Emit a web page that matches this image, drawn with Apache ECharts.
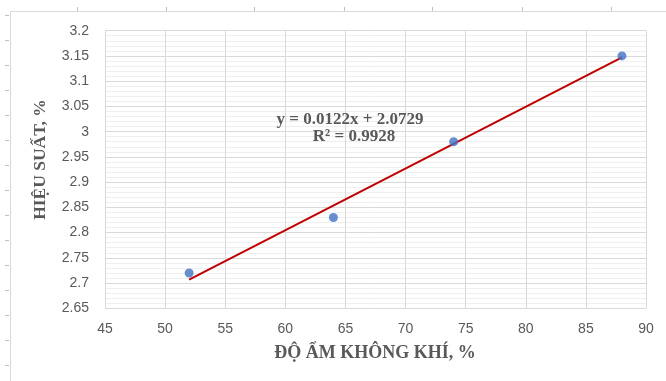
<!DOCTYPE html>
<html><head><meta charset="utf-8">
<script src="https://cdn.jsdelivr.net/npm/echarts@6/dist/echarts.min.js"></script>
<style>html,body{margin:0;padding:0;background:#fff}#c{width:666px;height:381px}</style>
</head><body><div id="c"></div>
<script>
const humidity = [52, 64, 74, 88];
const efficiency = [2.72, 2.83, 2.98, 3.15];
const trendX = [52, 88];
const trendY = [2.707, 3.147];
const xTicks = {min: 45, max: 90, step: 5};
const yTicks = {min: 2.65, max: 3.2, step: 0.05};
const eqLine1 = 'y = 0.0122x + 2.0729';
const eqLine2 = 'R² = 0.9928';
const xTitle = 'ĐỘ ẨM KHÔNG KHÍ, %';
const yTitle = 'HIỆU SUẤT, %';

const chart = echarts.init(document.getElementById('c'));
const txt = '#595959';
const deco = [];
deco.push({type:'line', shape:{x1:10.5,y1:11.5,x2:666,y2:11.5}, style:{stroke:'#d9d9d9',lineWidth:1}, silent:true});
deco.push({type:'line', shape:{x1:10.5,y1:11.5,x2:10.5,y2:381}, style:{stroke:'#d9d9d9',lineWidth:1}, silent:true});
[77,166,254,344,432,522,611].forEach(x=>deco.push({type:'line', shape:{x1:x+0.5,y1:7,x2:x+0.5,y2:11}, style:{stroke:'#bfbfbf',lineWidth:1}, silent:true}));
for (let y=15; y<381; y+=25) deco.push({type:'line', shape:{x1:5,y1:y+0.5,x2:9,y2:y+0.5}, style:{stroke:'#bfbfbf',lineWidth:1}, silent:true});
deco.push({type:'text', x:350, y:119.5, z:10, style:{text:eqLine1, fill:txt, font:'bold 17px "Liberation Serif"', align:'center', verticalAlign:'middle'}});
deco.push({type:'text', x:354, y:136.5, z:10, style:{text:eqLine2, fill:txt, font:'bold 17px "Liberation Serif"', align:'center', verticalAlign:'middle'}});
deco.push({type:'text', x:375, y:353, style:{text:xTitle, fill:txt, font:'bold 18px "Liberation Serif"', align:'center', verticalAlign:'middle'}});
deco.push({type:'text', x:40.5, y:159.5, rotation:Math.PI/2, style:{text:yTitle, fill:txt, font:'bold 17.5px "Liberation Serif"', align:'center', verticalAlign:'middle'}});

chart.setOption({
  animation:false,
  grid:{left:105, right:20, top:30.7, bottom:72.7, containLabel:false},
  xAxis:{type:'value', min:xTicks.min, max:xTicks.max, interval:xTicks.step,
    axisLine:{show:false}, axisTick:{show:false},
    axisLabel:{color:txt, fontFamily:'Liberation Sans', fontSize:14, margin:14},
    splitLine:{show:true, lineStyle:{color:'#d9d9d9', width:1}}},
  yAxis:{type:'value', min:yTicks.min, max:yTicks.max, interval:yTicks.step,
    axisLine:{show:false}, axisTick:{show:false},
    minorTick:{show:false, splitNumber:5},
    minorSplitLine:{show:true, lineStyle:{color:'#efefef', width:1}},
    axisLabel:{color:txt, fontFamily:'Liberation Sans', fontSize:14, margin:16},
    splitLine:{show:true, lineStyle:{color:'#d9d9d9', width:1}}},
  graphic: deco,
  series:[
    {type:'line', data: trendX.map((x,i)=>[x, trendY[i]]), symbol:'none', lineStyle:{color:'#c00000', width:2}, z:2},
    {type:'scatter', data: humidity.map((x,i)=>[x, efficiency[i]]), symbolSize:9, itemStyle:{color:'#4472c4'}, z:3}
  ]
});
</script></body></html>
